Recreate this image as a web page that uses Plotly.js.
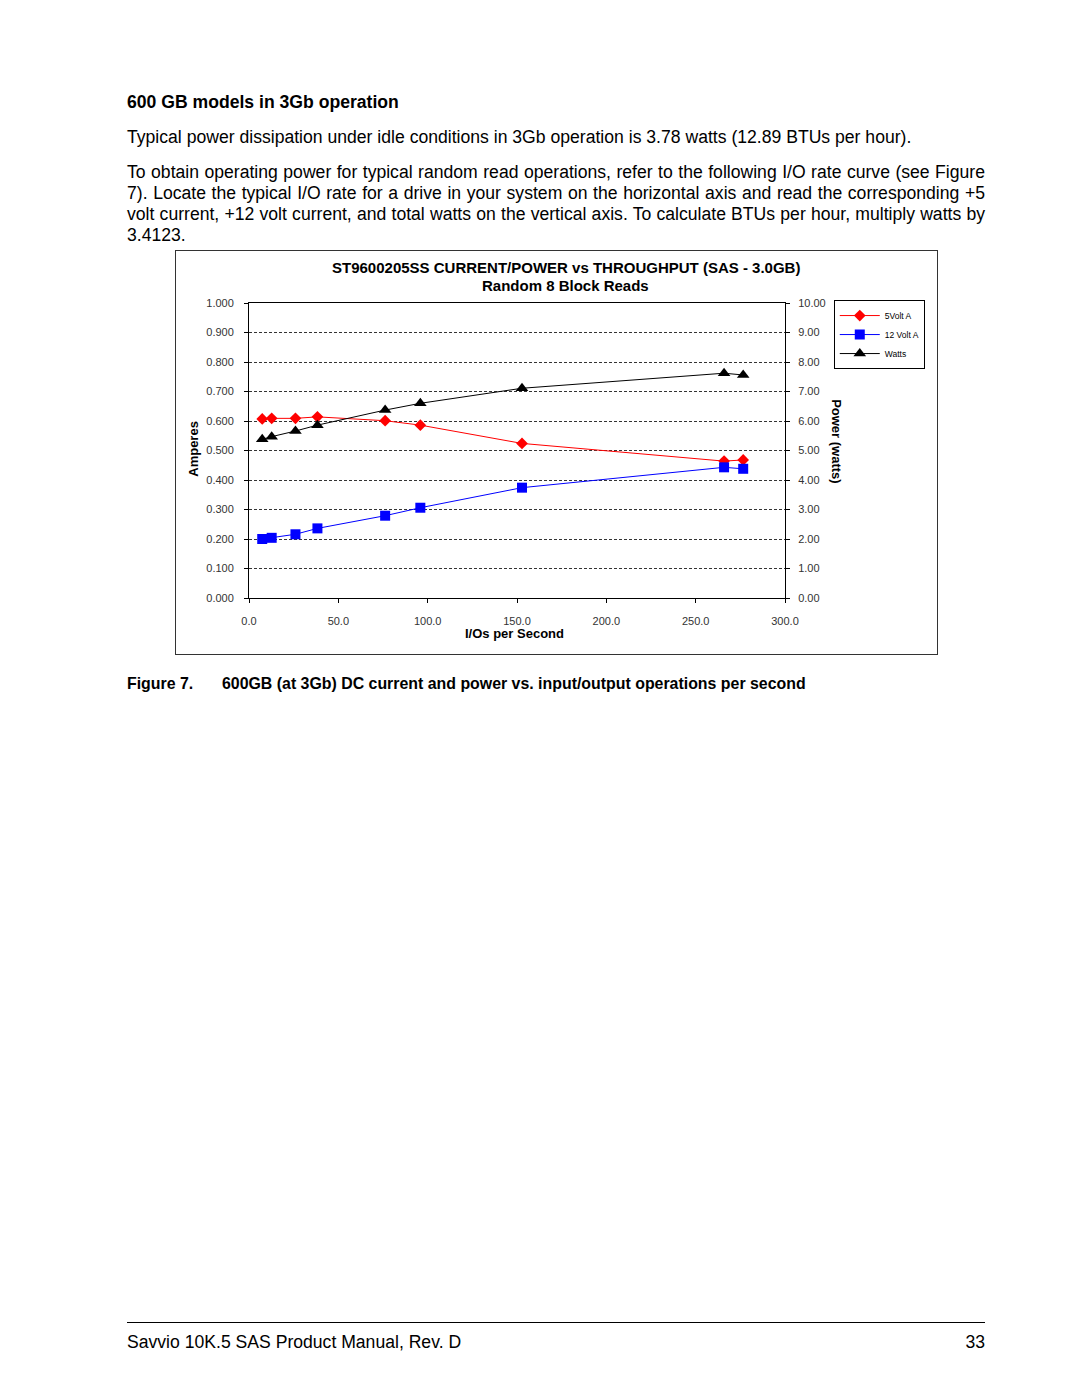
<!DOCTYPE html>
<html>
<head>
<meta charset="utf-8">
<script src="https://cdn.plot.ly/plotly-3.0.1.min.js"></script>
<style>
  body { margin:0; background:#fff; font-family: "Liberation Sans", Arial, sans-serif; color:#000; }
  #page { position:relative; width:1080px; height:1397px; }
  .t { position:absolute; left:127px; width:858px; font-size:17.6px; line-height:21.3px; }
  #chart { position:absolute; left:175px; top:250px; width:763px; height:405px; box-sizing:border-box; border:1px solid #333; }
</style>
</head>
<body>
<div id="page">
  <div class="t" style="top:92px;font-weight:bold;font-size:17.6px;">600 GB models in 3Gb operation</div>
  <div class="t" style="top:127px;">Typical power dissipation under idle conditions in 3Gb operation is 3.78 watts (12.89 BTUs per hour).</div>
  <div class="t" style="top:161.5px;text-align:justify;">To obtain operating power for typical random read operations, refer to the following I/O rate curve (see Figure 7). Locate the typical I/O rate for a drive in your system on the horizontal axis and read the corresponding +5 volt current, +12 volt current, and total watts on the vertical axis. To calculate BTUs per hour, multiply watts by 3.4123.</div>
  <div id="chart"></div>
  <div class="t" style="top:673px;font-weight:bold;font-size:15.9px;"><span style="display:inline-block;width:95px;">Figure 7.</span>600GB (at 3Gb) DC current and power vs. input/output operations per second</div>
  <div style="position:absolute;left:127px;top:1322px;width:858px;height:0;border-top:1.5px solid #000;"></div>
  <div class="t" style="top:1332px;">Savvio 10K.5 SAS Product Manual, Rev. D<span style="position:absolute;right:0;">33</span></div>
</div>
<script>
const iops    = [7.4, 12.7, 26.0, 38.3, 76.2, 95.9, 152.8, 265.9, 276.6];
const amps5v  = [0.607, 0.609, 0.609, 0.614, 0.601, 0.586, 0.524, 0.464, 0.468];
const amps12v = [0.200, 0.204, 0.216, 0.236, 0.279, 0.306, 0.374, 0.443, 0.438];
const watts   = [5.38, 5.47, 5.66, 5.86, 6.37, 6.60, 7.11, 7.62, 7.56];
const seriesNames = ["5Volt A", "12 Volt A", "Watts"];
const titleLines = ["ST9600205SS CURRENT/POWER vs THROUGHPUT (SAS - 3.0GB)", "Random 8 Block Reads"];

const FF = "Liberation Sans, Arial, sans-serif";
const tickFont = {family:FF, size:11, color:"#333"};
const boldFont = (s) => ({family:FF, size:s, color:"#000", weight:"bold"});

const traces = [
  {x:iops, y:amps5v, name:seriesNames[0], mode:"lines+markers", line:{color:"#ff0000", width:1},
   marker:{symbol:"diamond", size:9, color:"#ff0000"}, yaxis:"y"},
  {x:iops, y:amps12v, name:seriesNames[1], mode:"lines+markers", line:{color:"#0000ff", width:1},
   marker:{symbol:"square", size:10, color:"#0000ff"}, yaxis:"y"},
  {x:iops, y:watts, name:seriesNames[2], mode:"lines+markers", line:{color:"#000000", width:1},
   marker:{symbol:"triangle-up", size:11, color:"#000000"}, yaxis:"y2"}
];

const layout = {
  width:761, height:403,
  margin:{l:73, r:150, t:52, b:56},
  paper_bgcolor:"#fff", plot_bgcolor:"#fff",
  font:{family:FF, color:"#000"},
  xaxis:{range:[0,300], dtick:50, tickformat:".1f", showgrid:false, zeroline:false,
         showline:true, linecolor:"#000", linewidth:1, mirror:true,
         ticks:"outside", ticklen:4, tickcolor:"#000", tickfont:tickFont, ticklabelstandoff:9},
  yaxis:{range:[0,1], dtick:0.1, tickformat:".3f", showgrid:true, gridcolor:"#333", griddash:"3px,2px", gridwidth:1,
         zeroline:false, showline:true, linecolor:"#000", linewidth:1,
         ticks:"outside", ticklen:4, tickcolor:"#000", tickfont:tickFont, ticklabelstandoff:8},
  yaxis2:{range:[0,10], dtick:1, tickformat:".2f", overlaying:"y", side:"right", showgrid:false,
         zeroline:false, showline:true, linecolor:"#000", linewidth:1,
         ticks:"outside", ticklen:4, tickcolor:"#000", tickfont:tickFont, ticklabelstandoff:6},
  legend:{x:1.091, xanchor:"left", y:1.01, yanchor:"top", bgcolor:"#fff", bordercolor:"#000", borderwidth:1,
          font:{size:8.5, color:"#000"}, tracegroupgap:0, itemwidth:40},
  annotations:[
    {text:titleLines[0], xref:"paper", yref:"paper", x:0.591, y:1.119, showarrow:false,
     xanchor:"center", yanchor:"middle", font:boldFont(15)},
    {text:titleLines[1], xref:"paper", yref:"paper", x:0.591, y:1.058, showarrow:false,
     xanchor:"center", yanchor:"middle", font:boldFont(15)},
    {text:"I/Os per Second", xref:"paper", yref:"paper", x:0.496, y:-0.12, showarrow:false,
     xanchor:"center", yanchor:"middle", font:boldFont(13)},
    {text:"Amperes", xref:"paper", yref:"paper", x:-0.105, y:0.505, showarrow:false,
     textangle:-90, xanchor:"center", yanchor:"middle", font:boldFont(13)},
    {text:"Power (watts)", xref:"paper", yref:"paper", x:1.0948, y:0.529, showarrow:false,
     textangle:90, xanchor:"center", yanchor:"middle", font:boldFont(13)}
  ],
  showlegend:true
};
Plotly.newPlot("chart", traces, layout, {displayModeBar:false, staticPlot:true});
</script>
</body>
</html>
